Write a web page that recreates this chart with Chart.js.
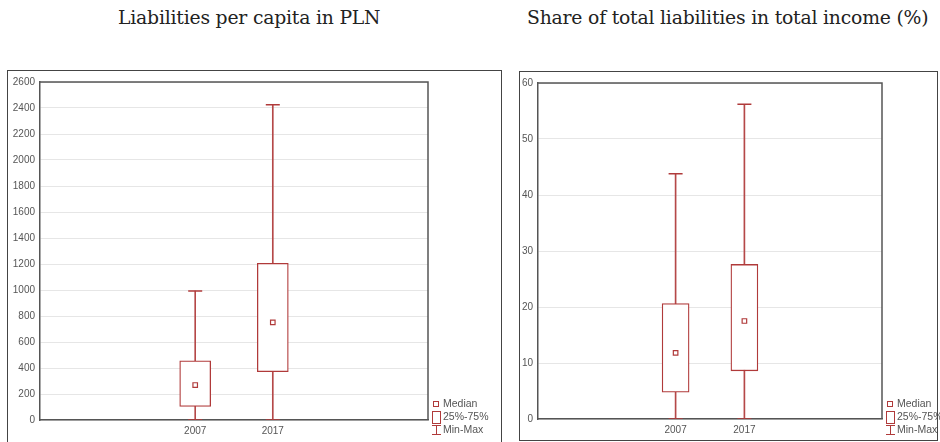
<!DOCTYPE html>
<html>
<head>
<meta charset="utf-8">
<script src="https://cdn.jsdelivr.net/npm/chart.js@4/dist/chart.umd.min.js"></script>
<style>
  html, body { margin: 0; padding: 0; background: #fff; }
  body { width: 940px; height: 442px; position: relative; overflow: hidden; font-family: "Liberation Sans", Arial, sans-serif; }
  .titulo { position: absolute; top: 7px; font-family: "DejaVu Serif", serif; font-size: 18.8px; color: #222; white-space: nowrap; letter-spacing: -0.2px; }
  .moldura { position: absolute; border: 1px solid #444; box-sizing: border-box; }
  .grafico { position: absolute; top: 60px; width: 470px; height: 382px; }
  .legenda { position: absolute; font-size: 10.5px; color: #555; line-height: 13px; }
  .legenda div { position: relative; padding-left: 11px; white-space: nowrap; }
  .legenda .sim { position: absolute; left: 0; box-sizing: border-box; }
</style>
</head>
<body>
<div class="titulo" style="left:118px">Liabilities per capita in PLN</div>
<div class="titulo" style="left:527px">Share of total liabilities in total income (%)</div>

<div class="moldura" style="left:7px; top:70px; width:495px; height:380px"></div>
<div class="moldura" style="left:519px; top:71px; width:419px; height:370px"></div>

<div class="grafico" style="left:0px"><canvas id="chart-pln"></canvas></div>
<div class="grafico" style="left:470px"><canvas id="chart-pct"></canvas></div>

<div class="legenda" style="left:432px; top:397px">
  <div><span class="sim" style="top:4px; left:1px; width:6px; height:6px; border:1px solid #b03a3a"></span>Median</div>
  <div><span class="sim" style="top:1px; width:9px; height:13px; border:1px solid #b03a3a"></span>25%-75%</div>
  <div><span class="sim" style="top:2px; left:4px; width:1px; height:10px; background:#b03a3a"></span><span class="sim" style="top:2px; left:0; width:9px; height:1px; background:#b03a3a"></span><span class="sim" style="top:11px; left:0; width:9px; height:1px; background:#b03a3a"></span>Min-Max</div>
</div>
<div class="legenda" style="left:886px; top:397px">
  <div><span class="sim" style="top:4px; left:1px; width:6px; height:6px; border:1px solid #b03a3a"></span>Median</div>
  <div><span class="sim" style="top:1px; width:9px; height:13px; border:1px solid #b03a3a"></span>25%-75%</div>
  <div><span class="sim" style="top:2px; left:4px; width:1px; height:10px; background:#b03a3a"></span><span class="sim" style="top:2px; left:0; width:9px; height:1px; background:#b03a3a"></span><span class="sim" style="top:11px; left:0; width:9px; height:1px; background:#b03a3a"></span>Min-Max</div>
</div>

<script>
// Dados
const categorias = ['', '', '2007', '2017', '', ''];

// Liabilities per capita (PLN)
const plnMin = [null, null, 0, 0, null, null];
const plnQ1 = [null, null, 105, 372, null, null];
const plnMediana = [null, null, 269, 751, null, null];
const plnQ3 = [null, null, 456, 1205, null, null];
const plnMax = [null, null, 992, 2425, null, null];
const plnTicks = [0, 200, 400, 600, 800, 1000, 1200, 1400, 1600, 1800, 2000, 2200, 2400, 2600];

// Share of liabilities in income (%)
const pctMin = [null, null, 0, 0, null, null];
const pctQ1 = [null, null, 4.8, 8.6, null, null];
const pctMediana = [null, null, 11.8, 17.5, null, null];
const pctQ3 = [null, null, 20.6, 27.6, null, null];
const pctMax = [null, null, 43.8, 56.2, null, null];
const pctTicks = [0, 10, 20, 30, 40, 50, 60];

const VERMELHO = '#b03a3a';

function intervalo(a, b) { return a.map((v, i) => (v === null ? null : [v, b[i]])); }

function criarBoxplot(canvasId, d, cfg) {
  const datasets = [
    // bigodes (min-max), por baixo da caixa
    { type: 'bar', data: intervalo(d.min, d.max), backgroundColor: '#b54848', barThickness: 1, grouped: false, order: 3 },
    // caixa 25%-75%
    { type: 'bar', data: intervalo(d.q1, d.q3), backgroundColor: '#fff', borderColor: VERMELHO, borderWidth: 1.3, borderSkipped: false, barThickness: cfg.larguraCaixa, grouped: false, order: 2 },
    // remates dos bigodes
    { type: 'line', data: d.max, showLine: false, pointStyle: 'line', pointRadius: 7, borderColor: VERMELHO, borderWidth: 1.5, order: 1 },
    { type: 'line', data: d.min, showLine: false, pointStyle: 'line', pointRadius: 7, borderColor: VERMELHO, borderWidth: 1.5, order: 1 },
    // mediana
    { type: 'line', data: d.mediana, showLine: false, pointStyle: 'rect', pointRadius: 3.2, backgroundColor: '#fff', borderColor: VERMELHO, borderWidth: 1.2, order: 0 }
  ];
  return new Chart(document.getElementById(canvasId), {
    type: 'bar',
    data: { labels: categorias, datasets },
    options: {
      responsive: false, animation: false, maintainAspectRatio: false,
      layout: { padding: { left: cfg.padEsq, right: cfg.padDir, top: cfg.padTopo, bottom: 0 } },
      plugins: { legend: { display: false }, tooltip: { enabled: false } },
      scales: {
        x: {
          offset: false,
          grid: { display: false, drawTicks: false },
          border: { display: true, color: '#555', width: 1.5 },
          ticks: { color: '#555', font: { family: 'Liberation Sans', size: 10 }, padding: 5, maxRotation: 0, autoSkip: false },
          afterFit: s => { s.height = cfg.alturaX; }
        },
        y: {
          min: cfg.ticks[0], max: cfg.ticks[cfg.ticks.length - 1],
          afterBuildTicks: s => { s.ticks = cfg.ticks.map(v => ({ value: v })); },
          grid: { color: '#e6e6e6', lineWidth: 1, drawTicks: false },
          border: { display: true, color: '#555', width: 1.5 },
          ticks: { color: '#555', font: { family: 'Liberation Sans', size: 10 }, padding: 5, callback: v => String(v) },
          afterFit: s => { s.width = cfg.larguraY; }
        }
      }
    },
    plugins: [{
      id: 'moldura',
      afterDraw(chart) {
        const { ctx, chartArea: a } = chart;
        ctx.save();
        ctx.strokeStyle = '#555'; ctx.lineWidth = 1.5;
        ctx.beginPath();
        ctx.moveTo(a.left, a.top); ctx.lineTo(a.right, a.top); ctx.lineTo(a.right, a.bottom);
        ctx.stroke();
        ctx.restore();
      }
    }]
  });
}

function tamanho(id) { const c = document.getElementById(id); c.width = 470; c.height = 382; c.style.width = '470px'; c.style.height = '382px'; }
tamanho('chart-pln'); tamanho('chart-pct');

criarBoxplot('chart-pln',
  { min: plnMin, q1: plnQ1, mediana: plnMediana, q3: plnQ3, max: plnMax },
  { ticks: plnTicks, padEsq: 0, padDir: 42, padTopo: 22, alturaX: 22, larguraY: 40, larguraCaixa: 31 });

criarBoxplot('chart-pct',
  { min: pctMin, q1: pctQ1, mediana: pctMediana, q3: pctQ3, max: pctMax },
  { ticks: pctTicks, padEsq: 48, padDir: 58, padTopo: 23, alturaX: 23, larguraY: 20, larguraCaixa: 27 });
</script>
</body>
</html>
